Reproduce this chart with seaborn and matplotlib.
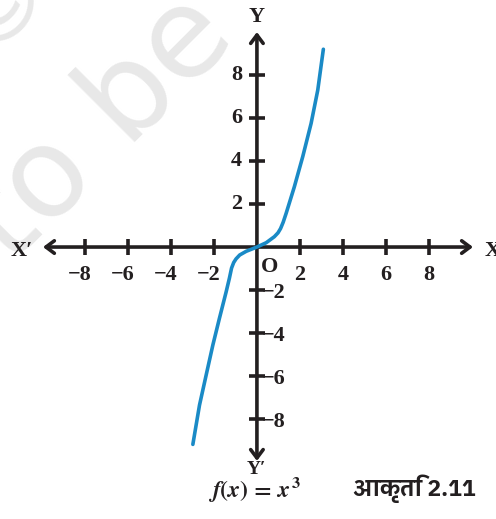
import numpy as np
import pandas as pd
import seaborn as sns
import matplotlib
matplotlib.use('Agg')
import matplotlib.pyplot as plt
from matplotlib import font_manager

# values
curve_x = [-2.98, -2.67, -2.36, -2.05, -1.74, -1.43, -1.28, -1.18, -1.08, -0.97, -0.8, -0.5, 0.0,
           0.43, 0.81, 0.98, 1.1, 1.22, 1.36, 1.74, 2.13, 2.52, 2.83, 3.09]
curve_y = [-9.18, -7.35, -5.95, -4.56, -3.3, -2.08, -1.45, -0.98, -0.72, -0.55, -0.37, -0.2, 0.0,
           0.2, 0.48, 0.66, 0.86, 1.15, 1.57, 2.8, 4.2, 5.75, 7.3, 9.2]
x_ticks = [-8, -6, -4, -2, 2, 4, 6, 8]
y_ticks = [-8, -6, -4, -2, 2, 4, 6, 8]
x_labels = ['\u22128', '\u22126', '\u22124', '\u22122', '2', '4', '6', '8']
y_labels = ['\u22128', '\u22126', '\u22124', '\u22122', '2', '4', '6', '8']
caption = '\u0906\u0915\u0943\u0924\u093f 2.11'

sns.set_style('white')
plt.rcParams['font.family'] = ['Liberation Serif', 'DejaVu Serif']

# look for something that can draw Devanagari, nicer ones first
deva = []
for f in font_manager.findSystemFonts():
    try:
        ft = matplotlib.ft2font.FT2Font(f)
        if 0x0906 in ft.get_charmap():
            deva.append(f)
    except Exception:
        pass
deva.sort(key=lambda p: (0 if 'Devanagari' in p else 1, 0 if 'Bold' in p else 1, p))
deva_font = deva[0] if deva else None

fig = plt.figure(figsize=(4.96, 5.19), dpi=100)
ax = fig.add_axes([0, 0, 1, 1])
ax.set_xlim(-11.95, 11.12)
ax.set_ylim(-12.65, 11.49)
ax.axis('off')

# watermark
ax.text(-7.3, 5.5, 'to be', fontsize=90, color='#e8e8e8', rotation=45,
        ha='center', va='center', family='DejaVu Sans', zorder=0)
ax.text(-12.1, 11.6, '\u00a9', fontsize=80, color='#e8e8e8', rotation=45,
        ha='center', va='center', family='DejaVu Sans', zorder=0)

# axes with arrows
arr = dict(arrowstyle='<->,head_length=0.6,head_width=0.45', lw=2.6, color='#231f20',
           shrinkA=0, shrinkB=0)
ax.annotate('', xy=(10.05, 0), xytext=(-9.95, 0), arrowprops=arr)
ax.annotate('', xy=(0, 10.0), xytext=(0, -9.95), arrowprops=arr)

# tick marks
ticks = pd.DataFrame({'x': x_ticks, 'y': [0] * len(x_ticks)})
ax.plot(ticks['x'], ticks['y'], ls='none', marker='|', ms=11, mew=2.6, color='#231f20')
ax.plot([0] * len(y_ticks), y_ticks, ls='none', marker='_', ms=11, mew=2.6, color='#231f20')

# curve
df = pd.DataFrame({'x': curve_x, 'y': curve_y})
sns.lineplot(data=df, x='x', y='y', ax=ax, color='#1a8ac6', lw=2.6, sort=False,
             estimator=None, zorder=3)

lab = dict(fontsize=16, fontweight='bold', color='#231f20')
for v, t in zip(x_ticks, x_labels):
    if v < 0:
        ax.text(v + 0.3, -1.3, t, ha='right', va='center', **lab)
    else:
        ax.text(v, -1.3, t, ha='center', va='center', **lab)
for v, t in zip(y_ticks, y_labels):
    if v > 0:
        ax.text(-0.95, v, t, ha='center', va='center', **lab)
    else:
        ax.text(0.25, v - 0.15, t, ha='left', va='center', **lab)
ax.text(0.6, -0.95, 'O', ha='center', va='center', **lab)

ax.text(0, 10.7, 'Y', ha='center', va='center', **lab)
ax.text(0, -10.35, "Y\u2032", ha='center', va='center', fontsize=14,
        fontweight='bold', color='#231f20')
ax.text(-10.95, -0.2, "X\u2032", ha='center', va='center', **lab)
ax.text(10.95, -0.2, 'X', ha='center', va='center', **lab)

ax.text(-0.1, -11.3, r'$\mathbfit{f}\mathbf{(}\mathbfit{x}\mathbf{)\,=\,}\mathbfit{x}^{\,\mathbf{3}}$',
        ha='center', va='center', fontsize=17, color='#231f20',
        math_fontfamily='stix')
if deva_font:
    font_manager.fontManager.addfont(deva_font)
    deva_name = font_manager.FontProperties(fname=deva_font).get_name()
    ax.text(7.3, -11.25, caption, ha='center', va='center', fontsize=16.5,
            fontweight='bold', color='#231f20', family=[deva_name, 'Liberation Sans'])
else:
    ax.text(7.3, -11.25, caption, ha='center', va='center', **lab)

fig.savefig('out.png', dpi=100)
